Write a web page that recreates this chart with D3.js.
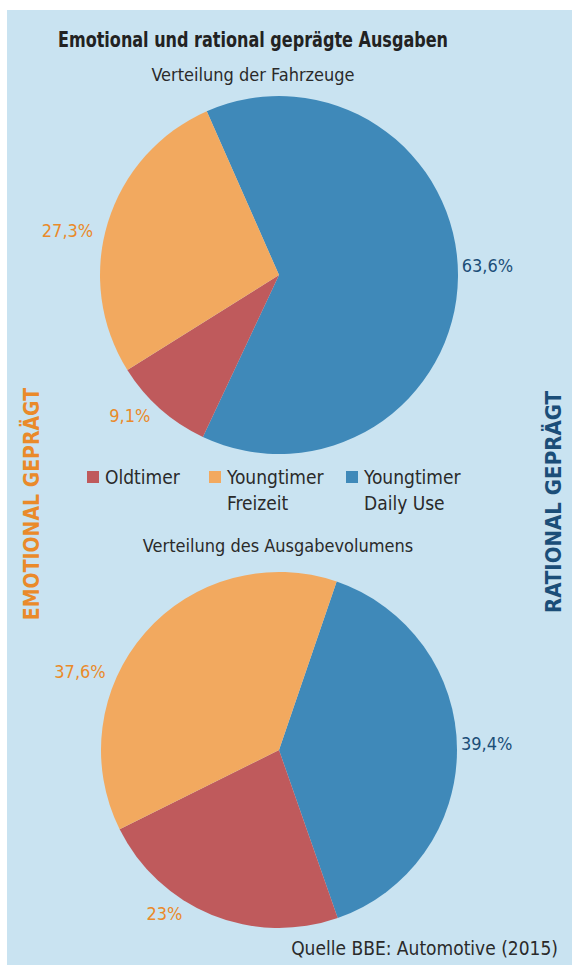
<!DOCTYPE html>
<html>
<head>
<meta charset="utf-8">
<script src="https://cdn.jsdelivr.net/npm/d3@7"></script>
<style>
  body { margin: 0; background: #fff; }
  text { font-family: "Liberation Sans Narrow", "DejaVu Sans Condensed", "Roboto", sans-serif; }
</style>
</head>
<body>
<div id="chart"></div>
<script>
// data
var categories = ["Youngtimer Daily Use", "Oldtimer", "Youngtimer Freizeit"];
var fahrzeuge = [63.6, 9.1, 27.3];
var ausgaben = [39.4, 23, 37.6];
var fahrzeugeLabels = ["63,6%", "9,1%", "27,3%"];
var ausgabenLabels = ["39,4%", "23%", "37,6%"];
var legendNames = [["Oldtimer"], ["Youngtimer", "Freizeit"], ["Youngtimer", "Daily Use"]];
var legendKeys = ["Oldtimer", "Youngtimer Freizeit", "Youngtimer Daily Use"];

var W = 572, H = 965;

var color = d3.scaleOrdinal()
    .domain(categories)
    .range(["#3f89b9", "#bf5a5c", "#f2a95f"]);
var labelColor = d3.scaleOrdinal()
    .domain(categories)
    .range(["#1b4e78", "#ea8a2a", "#ea8a2a"]);

var svg = d3.select("#chart")
  .append("svg")
    .attr("width", W)
    .attr("height", H);

svg.append("rect")
    .attr("x", 7).attr("y", 10)
    .attr("width", W - 7).attr("height", H - 10)
    .attr("fill", "#c9e3f1");

svg.append("text")
    .attr("x", 253).attr("y", 47)
    .attr("text-anchor", "middle")
    .attr("font-size", 22).attr("font-weight", "bold")
    .attr("textLength", 390).attr("lengthAdjust", "spacingAndGlyphs")
    .attr("fill", "#222")
    .text("Emotional und rational geprägte Ausgaben");

// one pie
function drawPie(values, labels, cx, cy, r, startDeg, nudge, title, titleX, titleY) {
    svg.append("text")
        .attr("x", titleX).attr("y", titleY)
        .attr("text-anchor", "middle")
        .attr("font-size", 18)
        .attr("fill", "#2a2a2a")
        .text(title);

    var rows = categories.map(function(c, i) { return {cat: c, v: values[i], lab: labels[i], nudge: nudge[i]}; });
    var start = startDeg * Math.PI / 180;
    var pie = d3.pie().sort(null).value(function(d) { return d.v; })
        .startAngle(start).endAngle(start + 2 * Math.PI);
    var arc = d3.arc().innerRadius(0).outerRadius(r);

    var g = svg.append("g").attr("transform", "translate(" + cx + "," + cy + ")");
    var arcs = pie(rows);
    g.selectAll("path").data(arcs).enter().append("path")
        .attr("d", arc)
        .attr("fill", function(d) { return color(d.data.cat); });

    g.selectAll("text").data(arcs).enter().append("text")
        .each(function(d) {
            var a = (d.startAngle + d.endAngle) / 2 + d.data.nudge * Math.PI / 180;
            var left = Math.sin(a) < 0;
            var R = left ? r + 12 : r + 4;
            d3.select(this)
                .attr("x", Math.sin(a) * R).attr("y", -Math.cos(a) * R)
                .attr("dy", "0.35em")
                .attr("text-anchor", left ? "end" : "start");
        })
        .attr("font-size", 18)
        .attr("fill", function(d) { return labelColor(d.data.cat); })
        .text(function(d) { return d.data.lab; });
}

drawPie(fahrzeuge, fahrzeugeLabels, 279, 275, 179, -23.8, [-3.6, 0.8, -3.6], "Verteilung der Fahrzeuge", 253, 81);
drawPie(ausgaben, ausgabenLabels, 279, 750, 178, 18.9, [-1.7, 8.4, -17], "Verteilung des Ausgabevolumens", 278, 552);

// legend
var legendX = [87, 209, 346];
var leg = svg.append("g").attr("transform", "translate(0,471)");
legendKeys.forEach(function(k, i) {
    leg.append("rect")
        .attr("x", legendX[i]).attr("y", 0)
        .attr("width", 12).attr("height", 12)
        .attr("fill", color(k));
    var t = leg.append("text")
        .attr("x", legendX[i] + 18).attr("y", 13)
        .attr("font-size", 19).attr("fill", "#2a2a2a");
    legendNames[i].forEach(function(line, j) {
        t.append("tspan")
            .attr("x", legendX[i] + 18)
            .attr("dy", j === 0 ? 0 : 26)
            .text(line);
    });
});

// side labels
svg.append("text")
    .attr("transform", "translate(39,504) rotate(-90)")
    .attr("text-anchor", "middle")
    .attr("font-size", 21).attr("font-weight", "bold")
    .attr("fill", "#ea8a2a")
    .text("EMOTIONAL GEPRÄGT");
svg.append("text")
    .attr("transform", "translate(561,502) rotate(-90)")
    .attr("text-anchor", "middle")
    .attr("font-size", 22).attr("font-weight", "bold")
    .attr("fill", "#1b4e78")
    .text("RATIONAL GEPRÄGT");

svg.append("text")
    .attr("x", 558).attr("y", 955)
    .attr("text-anchor", "end")
    .attr("font-size", 19).attr("fill", "#2a2a2a")
    .text("Quelle BBE: Automotive (2015)");
</script>
</body>
</html>
